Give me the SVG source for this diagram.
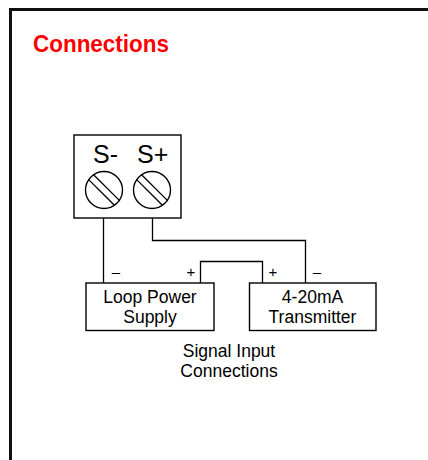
<svg xmlns="http://www.w3.org/2000/svg" width="428" height="460" viewBox="0 0 428 460">
<style>
.frame{fill:none;stroke:#111;stroke-width:3}
.box{fill:#fff;stroke:#000;stroke-width:1.4}
.wire{fill:none;stroke:#000;stroke-width:1.3}
.t{font-family:"Liberation Sans",Arial,sans-serif;fill:#000;text-anchor:middle}
.lbl{font-size:17.5px}
.pol{font-size:15px}
.term{font-size:25px;text-anchor:start}
</style>
<defs>
<g id="screw">
<circle cx="0" cy="0" r="18.5" fill="#fff" stroke="#000" stroke-width="1.4"/>
<line x1="-10.4" y1="-15.3" x2="15.3" y2="10.4" stroke="#000" stroke-width="1.3"/>
<line x1="-15.3" y1="-10.4" x2="10.4" y2="15.3" stroke="#000" stroke-width="1.3"/>
</g>
</defs>
<rect width="428" height="460" fill="#fff"/>
<path class="frame" d="M10.5,460 V9.5 H428"/>
<text x="33" y="52" font-family="Liberation Sans,Arial,sans-serif" font-weight="bold" font-size="24" fill="#ff0000" textLength="136" lengthAdjust="spacingAndGlyphs">Connections</text>

<g id="connectors">
<path class="wire" d="M103.5,208 V283"/>
<path class="wire" d="M152.5,208 V240.5 H305.5 V283"/>
<path class="wire" d="M200.5,283 V261.5 H262.5 V283"/>
</g>

<g id="terminal-block">
<rect class="box" x="74" y="135" width="107" height="83"/>
<text class="t term" x="93" y="163">S-</text>
<text class="t term" x="137" y="163">S+</text>
<use href="#screw" x="104" y="190"/>
<use href="#screw" x="152" y="190"/>
</g>

<g id="loop-power-supply">
<rect class="box" x="86" y="283" width="128" height="47.5"/>
<text class="t lbl" x="150" y="303">Loop Power</text>
<text class="t lbl" x="150" y="323">Supply</text>
<text class="t pol" x="116" y="277">–</text>
<text class="t pol" x="191" y="277">+</text>
</g>

<g id="transmitter">
<rect class="box" x="249.5" y="283" width="126.5" height="47.5"/>
<text class="t lbl" x="312.5" y="303">4-20mA</text>
<text class="t lbl" x="312.5" y="323">Transmitter</text>
<text class="t pol" x="273" y="277">+</text>
<text class="t pol" x="317" y="277">–</text>
</g>

<g id="caption">
<text class="t lbl" x="229" y="357">Signal Input</text>
<text class="t lbl" x="229" y="377">Connections</text>
</g>
</svg>
